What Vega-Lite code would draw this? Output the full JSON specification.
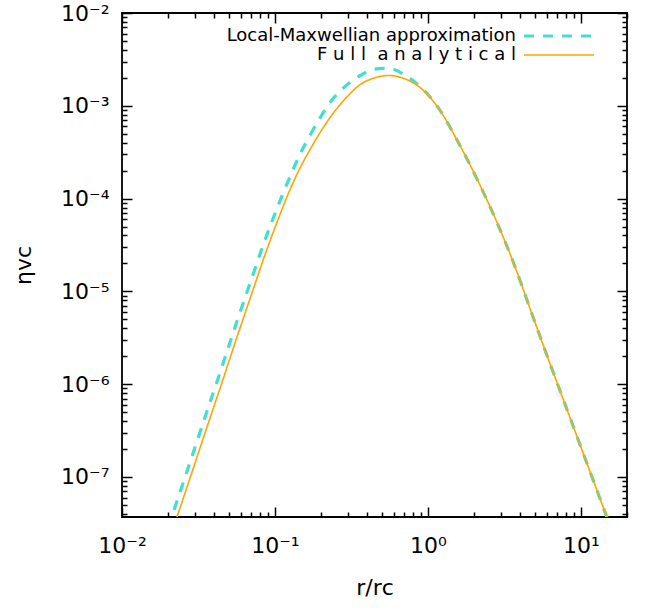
{
  "$schema": "https://vega.github.io/schema/vega-lite/v6.json",
  "autosize": "none",
  "padding": {"left": 122, "top": 13, "right": 20, "bottom": 93},
  "width": 505,
  "height": 504,
  "background": "white",
  "config": {
    "view": {"stroke": "black", "strokeWidth": 1.8},
    "font": "DejaVu Sans"
  },
  "data": {"values": [
    {"r": 0.01995, "v": 2.82e-8, "s": "Local-Maxwellian approximation"},
    {"r": 0.02301, "v": 5.64e-8, "s": "Local-Maxwellian approximation"},
    {"r": 0.02799, "v": 1.479e-7, "s": "Local-Maxwellian approximation"},
    {"r": 0.03548, "v": 4.79e-7, "s": "Local-Maxwellian approximation"},
    {"r": 0.04467, "v": 1.479e-6, "s": "Local-Maxwellian approximation"},
    {"r": 0.05623, "v": 4.68e-6, "s": "Local-Maxwellian approximation"},
    {"r": 0.07129, "v": 1.462e-5, "s": "Local-Maxwellian approximation"},
    {"r": 0.08414, "v": 3.236e-5, "s": "Local-Maxwellian approximation"},
    {"r": 0.1023, "v": 7.59e-5, "s": "Local-Maxwellian approximation"},
    {"r": 0.1256, "v": 1.734e-4, "s": "Local-Maxwellian approximation"},
    {"r": 0.1479, "v": 3.162e-4, "s": "Local-Maxwellian approximation"},
    {"r": 0.1698, "v": 4.84e-4, "s": "Local-Maxwellian approximation"},
    {"r": 0.1995, "v": 7.67e-4, "s": "Local-Maxwellian approximation"},
    {"r": 0.2415, "v": 1.21e-3, "s": "Local-Maxwellian approximation"},
    {"r": 0.2951, "v": 1.68e-3, "s": "Local-Maxwellian approximation"},
    {"r": 0.3614, "v": 2.12e-3, "s": "Local-Maxwellian approximation"},
    {"r": 0.4467, "v": 2.48e-3, "s": "Local-Maxwellian approximation"},
    {"r": 0.5534, "v": 2.53e-3, "s": "Local-Maxwellian approximation"},
    {"r": 0.7079, "v": 2.14e-3, "s": "Local-Maxwellian approximation"},
    {"r": 0.8913, "v": 1.60e-3, "s": "Local-Maxwellian approximation"},
    {"r": 1.0715, "v": 1.156e-3, "s": "Local-Maxwellian approximation"},
    {"r": 1.2677, "v": 7.745e-4, "s": "Local-Maxwellian approximation"},
    {"r": 1.479, "v": 4.90e-4, "s": "Local-Maxwellian approximation"},
    {"r": 1.714, "v": 3.119e-4, "s": "Local-Maxwellian approximation"},
    {"r": 2.203, "v": 1.365e-4, "s": "Local-Maxwellian approximation"},
    {"r": 2.831, "v": 5.495e-5, "s": "Local-Maxwellian approximation"},
    {"r": 3.639, "v": 1.995e-5, "s": "Local-Maxwellian approximation"},
    {"r": 4.786, "v": 5.69e-6, "s": "Local-Maxwellian approximation"},
    {"r": 6.012, "v": 2.014e-6, "s": "Local-Maxwellian approximation"},
    {"r": 7.762, "v": 6.46e-7, "s": "Local-Maxwellian approximation"},
    {"r": 9.931, "v": 2.158e-7, "s": "Local-Maxwellian approximation"},
    {"r": 12.02, "v": 9.23e-8, "s": "Local-Maxwellian approximation"},
    {"r": 14.66, "v": 3.81e-8, "s": "Local-Maxwellian approximation"},
    {"r": 17.78, "v": 1.62e-8, "s": "Local-Maxwellian approximation"},
    {"r": 0.01995, "v": 1.9e-8, "s": "Full analytical"},
    {"r": 0.02301, "v": 3.81e-8, "s": "Full analytical"},
    {"r": 0.02799, "v": 1.0e-7, "s": "Full analytical"},
    {"r": 0.03548, "v": 3.24e-7, "s": "Full analytical"},
    {"r": 0.04467, "v": 1.0e-6, "s": "Full analytical"},
    {"r": 0.05623, "v": 3.16e-6, "s": "Full analytical"},
    {"r": 0.07129, "v": 1.0e-5, "s": "Full analytical"},
    {"r": 0.08414, "v": 2.239e-5, "s": "Full analytical"},
    {"r": 0.1023, "v": 5.37e-5, "s": "Full analytical"},
    {"r": 0.1256, "v": 1.256e-4, "s": "Full analytical"},
    {"r": 0.1479, "v": 2.24e-4, "s": "Full analytical"},
    {"r": 0.1698, "v": 3.39e-4, "s": "Full analytical"},
    {"r": 0.1995, "v": 5.31e-4, "s": "Full analytical"},
    {"r": 0.2415, "v": 8.41e-4, "s": "Full analytical"},
    {"r": 0.2951, "v": 1.245e-3, "s": "Full analytical"},
    {"r": 0.3614, "v": 1.698e-3, "s": "Full analytical"},
    {"r": 0.4467, "v": 1.995e-3, "s": "Full analytical"},
    {"r": 0.5534, "v": 2.123e-3, "s": "Full analytical"},
    {"r": 0.7079, "v": 1.95e-3, "s": "Full analytical"},
    {"r": 0.8913, "v": 1.563e-3, "s": "Full analytical"},
    {"r": 1.0715, "v": 1.148e-3, "s": "Full analytical"},
    {"r": 1.2677, "v": 7.745e-4, "s": "Full analytical"},
    {"r": 1.479, "v": 4.90e-4, "s": "Full analytical"},
    {"r": 1.714, "v": 3.119e-4, "s": "Full analytical"},
    {"r": 2.203, "v": 1.365e-4, "s": "Full analytical"},
    {"r": 2.831, "v": 5.495e-5, "s": "Full analytical"},
    {"r": 3.639, "v": 1.995e-5, "s": "Full analytical"},
    {"r": 4.786, "v": 5.69e-6, "s": "Full analytical"},
    {"r": 6.012, "v": 2.014e-6, "s": "Full analytical"},
    {"r": 7.762, "v": 6.46e-7, "s": "Full analytical"},
    {"r": 9.931, "v": 2.158e-7, "s": "Full analytical"},
    {"r": 12.02, "v": 9.23e-8, "s": "Full analytical"},
    {"r": 14.66, "v": 3.81e-8, "s": "Full analytical"},
    {"r": 17.78, "v": 1.62e-8, "s": "Full analytical"}
  ]},
  "resolve": {"axis": {"x": "independent", "y": "independent"}},
  "layer": [
    {
      "transform": [{"filter": "datum.s == 'Local-Maxwellian approximation'"}],
      "mark": {"type": "line", "clip": true, "interpolate": "monotone"},
      "encoding": {
        "x": {"field": "r", "type": "quantitative",
          "scale": {"type": "log", "domain": [0.01, 20], "nice": false},
          "axis": {"orient": "bottom", "title": "r/rᴄ",
            "values": [0.01,0.02,0.03,0.04,0.05,0.06,0.07,0.08,0.09,0.1,0.2,0.3,0.4,0.5,0.6,0.7,0.8,0.9,1,2,3,4,5,6,7,8,9,10,20],
            "labelExpr": "abs(log(datum.value)/LN10 - round(log(datum.value)/LN10)) > 0.001 ? '' : '10' + (round(log(datum.value)/LN10) < 0 ? '⁻' : '') + ['⁰','¹','²','³','⁴','⁵','⁶','⁷','⁸','⁹'][abs(round(log(datum.value)/LN10))]",
            "tickSize": {"condition": {"test": "abs(log(datum.value)/LN10 - round(log(datum.value)/LN10)) < 0.001", "value": -10}, "value": -5},
            "tickWidth": 1.5, "tickColor": "black", "domain": false, "grid": false,
            "labelFont": "DejaVu Sans", "labelFontSize": 22, "labelColor": "black", "labelPadding": 28,
            "labelOverlap": false, "labelFlush": false, "labelBound": false,
            "titleFont": "DejaVu Sans", "titleFontSize": 22, "titleFontWeight": "normal", "titleColor": "black", "titlePadding": 16}},
        "y": {"field": "v", "type": "quantitative",
          "scale": {"type": "log", "domain": [3.7e-8, 0.01], "nice": false},
          "axis": {"orient": "left", "title": "ηvᴄ",
            "values": [4e-8,5e-8,6e-8,7e-8,8e-8,9e-8,1e-7,2e-7,3e-7,4e-7,5e-7,6e-7,7e-7,8e-7,9e-7,1e-6,2e-6,3e-6,4e-6,5e-6,6e-6,7e-6,8e-6,9e-6,1e-5,2e-5,3e-5,4e-5,5e-5,6e-5,7e-5,8e-5,9e-5,1e-4,2e-4,3e-4,4e-4,5e-4,6e-4,7e-4,8e-4,9e-4,1e-3,2e-3,3e-3,4e-3,5e-3,6e-3,7e-3,8e-3,9e-3,1e-2],
            "labelExpr": "abs(log(datum.value)/LN10 - round(log(datum.value)/LN10)) > 0.001 ? '' : '10' + (round(log(datum.value)/LN10) < 0 ? '⁻' : '') + ['⁰','¹','²','³','⁴','⁵','⁶','⁷','⁸','⁹'][abs(round(log(datum.value)/LN10))]",
            "tickSize": {"condition": {"test": "abs(log(datum.value)/LN10 - round(log(datum.value)/LN10)) < 0.001", "value": -10}, "value": -5},
            "tickWidth": 1.5, "tickColor": "black", "domain": false, "grid": false,
            "labelFont": "DejaVu Sans", "labelFontSize": 22, "labelColor": "black", "labelPadding": 23,
            "labelOverlap": false, "labelFlush": false, "labelBound": false,
            "titleFont": "DejaVu Sans", "titleFontSize": 22, "titleFontWeight": "normal", "titleColor": "black", "titlePadding": 25}},
        "color": {"field": "s", "type": "nominal",
          "scale": {"domain": ["Local-Maxwellian approximation", "Full analytical"], "range": ["#40e0d0", "#ffa500"]},
          "legend": {"orient": "none", "legendX": 428, "legendY": 14, "title": null,
            "labelFont": "DejaVu Sans", "labelFontSize": 18, "labelColor": "black",
            "symbolType": "M-5,0H5", "symbolSize": 196, "labelAlign": "right", "labelOffset": -52, "rowPadding": 1,
            "labelLimit": 400,
            "labelExpr": "datum.label == 'Full analytical' ? 'F u l l\u00a0\u00a0a n a l y t i c a l' : datum.label"}},
        "strokeDash": {"field": "s", "type": "nominal",
          "scale": {"domain": ["Local-Maxwellian approximation", "Full analytical"], "range": [[10, 9], [1, 0]]}},
        "strokeWidth": {"field": "s", "type": "nominal",
          "scale": {"domain": ["Local-Maxwellian approximation", "Full analytical"], "range": [3.2, 1.6]}}
      }
    },
    {
      "transform": [{"filter": "datum.s == 'Full analytical'"}],
      "mark": {"type": "line", "clip": true, "interpolate": "monotone"},
      "encoding": {
        "x": {"field": "r", "type": "quantitative",
          "scale": {"type": "log", "domain": [0.01, 20], "nice": false},
          "axis": {"orient": "top", "title": null, "labels": false,
            "values": [0.01,0.02,0.03,0.04,0.05,0.06,0.07,0.08,0.09,0.1,0.2,0.3,0.4,0.5,0.6,0.7,0.8,0.9,1,2,3,4,5,6,7,8,9,10,20],
            "tickSize": {"condition": {"test": "abs(log(datum.value)/LN10 - round(log(datum.value)/LN10)) < 0.001", "value": -10}, "value": -5},
            "tickWidth": 1.5, "tickColor": "black", "domain": false, "grid": false}},
        "y": {"field": "v", "type": "quantitative",
          "scale": {"type": "log", "domain": [3.7e-8, 0.01], "nice": false},
          "axis": {"orient": "right", "title": null, "labels": false,
            "values": [4e-8,5e-8,6e-8,7e-8,8e-8,9e-8,1e-7,2e-7,3e-7,4e-7,5e-7,6e-7,7e-7,8e-7,9e-7,1e-6,2e-6,3e-6,4e-6,5e-6,6e-6,7e-6,8e-6,9e-6,1e-5,2e-5,3e-5,4e-5,5e-5,6e-5,7e-5,8e-5,9e-5,1e-4,2e-4,3e-4,4e-4,5e-4,6e-4,7e-4,8e-4,9e-4,1e-3,2e-3,3e-3,4e-3,5e-3,6e-3,7e-3,8e-3,9e-3,1e-2],
            "tickSize": {"condition": {"test": "abs(log(datum.value)/LN10 - round(log(datum.value)/LN10)) < 0.001", "value": -10}, "value": -5},
            "tickWidth": 1.5, "tickColor": "black", "domain": false, "grid": false}},
        "color": {"field": "s", "type": "nominal",
          "scale": {"domain": ["Local-Maxwellian approximation", "Full analytical"], "range": ["#40e0d0", "#ffa500"]}},
        "strokeDash": {"field": "s", "type": "nominal",
          "scale": {"domain": ["Local-Maxwellian approximation", "Full analytical"], "range": [[10, 9], [1, 0]]}},
        "strokeWidth": {"field": "s", "type": "nominal",
          "scale": {"domain": ["Local-Maxwellian approximation", "Full analytical"], "range": [3.2, 1.6]}}
      }
    }
  ]
}
